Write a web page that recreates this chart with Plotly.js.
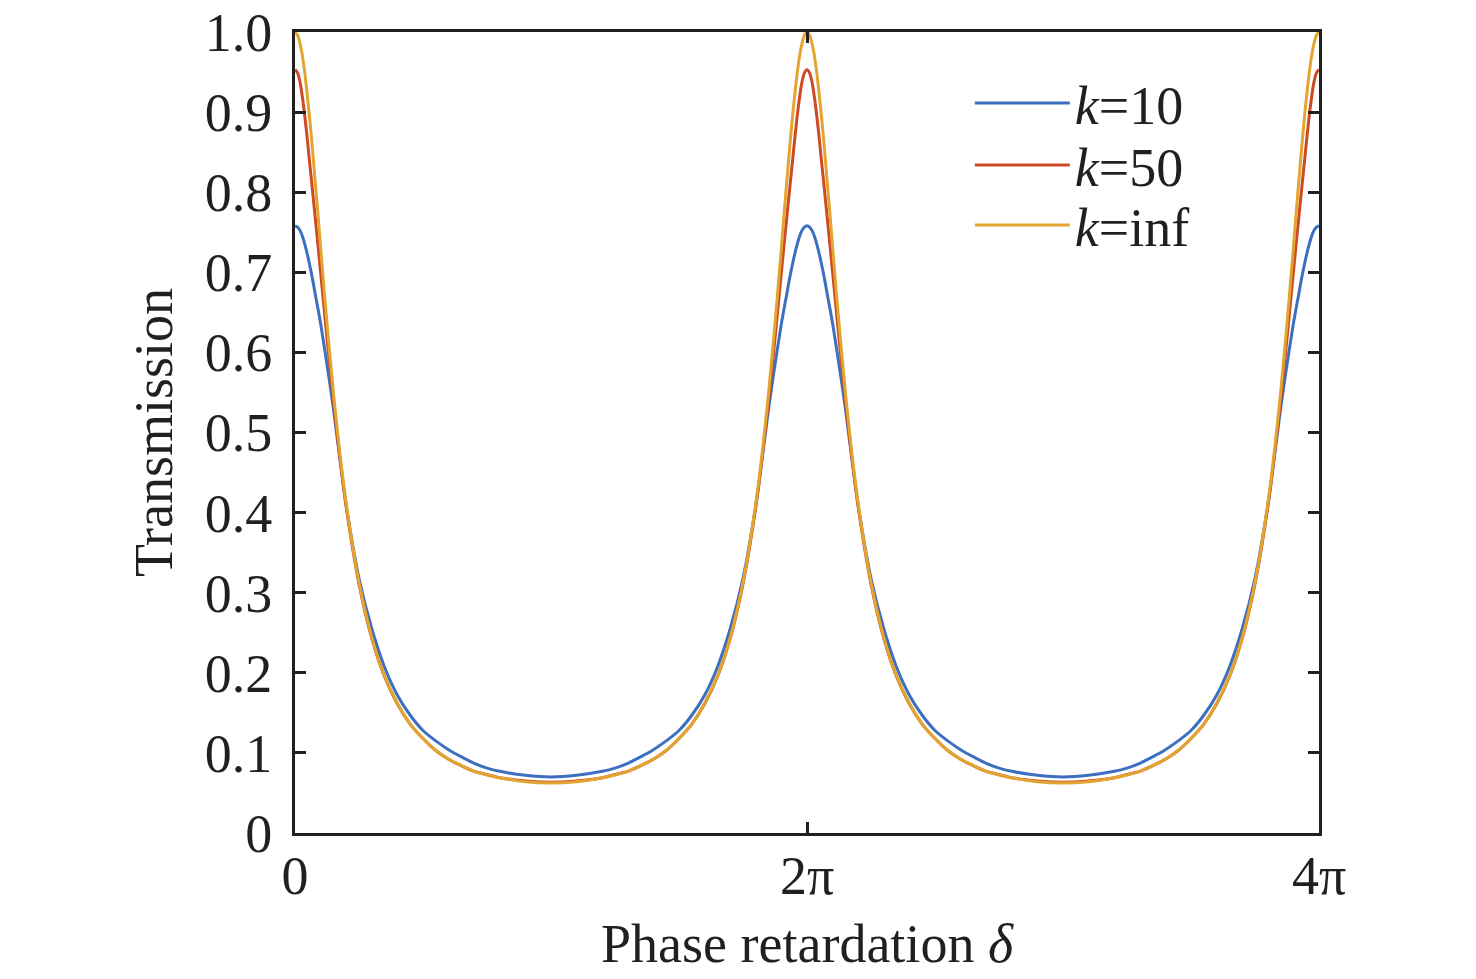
<!DOCTYPE html>
<html>
<head>
<meta charset="utf-8">
<script src="https://cdn.plot.ly/plotly-3.0.1.min.js"></script>
<style>
    html, body { margin: 0; padding: 0; background: #ffffff; }
    #chart { width: 1476px; height: 979px; }
</style>
</head>
<body>
<div id="chart"></div>
<script>
// Phase retardation in units of pi (0 .. 4pi).
const delta = [
    0, 0.01, 0.02, 0.03, 0.04, 0.05, 0.06, 0.07, 0.08, 0.09, 0.1, 0.125, 0.15, 0.175, 0.2, 0.25, 0.3, 0.35, 0.4, 0.45, 0.5, 0.55, 0.6, 0.65, 0.7, 0.75, 0.8, 0.9, 1.0,
    1.1, 1.2, 1.25, 1.3, 1.35, 1.4, 1.45, 1.5, 1.55, 1.6, 1.65, 1.7, 1.75, 1.8, 1.825, 1.85, 1.875, 1.9, 1.91, 1.92, 1.93, 1.94, 1.95, 1.96, 1.97, 1.98, 1.99, 2.0,
    2.01, 2.02, 2.03, 2.04, 2.05, 2.06, 2.07, 2.08, 2.09, 2.1, 2.125, 2.15, 2.175, 2.2, 2.25, 2.3, 2.35, 2.4, 2.45, 2.5, 2.55, 2.6, 2.65, 2.7, 2.75, 2.8, 2.9, 3.0,
    3.1, 3.2, 3.25, 3.3, 3.35, 3.4, 3.45, 3.5, 3.55, 3.6, 3.65, 3.7, 3.75, 3.8, 3.825, 3.85, 3.875, 3.9, 3.91, 3.92, 3.93, 3.94, 3.95, 3.96, 3.97, 3.98, 3.99, 4.0,
];

// Transmission, k=10.
const k10 = [
    0.758, 0.7565, 0.752, 0.744, 0.733, 0.720, 0.705, 0.689, 0.671, 0.654, 0.636, 0.585, 0.530, 0.468, 0.409, 0.318, 0.255, 0.207, 0.172, 0.147, 0.128, 0.115, 0.104, 0.095, 0.087, 0.081, 0.077, 0.072, 0.070,
    0.072, 0.077, 0.081, 0.087, 0.095, 0.104, 0.115, 0.128, 0.147, 0.172, 0.207, 0.255, 0.318, 0.409, 0.468, 0.530, 0.585, 0.636, 0.654, 0.671, 0.689, 0.705, 0.720, 0.733, 0.744, 0.752, 0.7565, 0.758,
    0.7565, 0.752, 0.744, 0.733, 0.720, 0.705, 0.689, 0.671, 0.654, 0.636, 0.585, 0.530, 0.468, 0.409, 0.318, 0.255, 0.207, 0.172, 0.147, 0.128, 0.115, 0.104, 0.095, 0.087, 0.081, 0.077, 0.072, 0.070,
    0.072, 0.077, 0.081, 0.087, 0.095, 0.104, 0.115, 0.128, 0.147, 0.172, 0.207, 0.255, 0.318, 0.409, 0.468, 0.530, 0.585, 0.636, 0.654, 0.671, 0.689, 0.705, 0.720, 0.733, 0.744, 0.752, 0.7565, 0.758,
];

// Transmission, k=50.
const k50 = [
    0.953, 0.949, 0.937, 0.916, 0.890, 0.860, 0.828, 0.797, 0.765, 0.733, 0.700, 0.618, 0.540, 0.469, 0.407, 0.311, 0.243, 0.195, 0.161, 0.136, 0.118, 0.103, 0.092, 0.084, 0.077, 0.073, 0.069, 0.065, 0.0635,
    0.065, 0.069, 0.073, 0.077, 0.084, 0.092, 0.103, 0.118, 0.136, 0.161, 0.195, 0.243, 0.311, 0.407, 0.469, 0.540, 0.618, 0.700, 0.733, 0.765, 0.797, 0.828, 0.860, 0.890, 0.916, 0.937, 0.949, 0.953,
    0.949, 0.937, 0.916, 0.890, 0.860, 0.828, 0.797, 0.765, 0.733, 0.700, 0.618, 0.540, 0.469, 0.407, 0.311, 0.243, 0.195, 0.161, 0.136, 0.118, 0.103, 0.092, 0.084, 0.077, 0.073, 0.069, 0.065, 0.0635,
    0.065, 0.069, 0.073, 0.077, 0.084, 0.092, 0.103, 0.118, 0.136, 0.161, 0.195, 0.243, 0.311, 0.407, 0.469, 0.540, 0.618, 0.700, 0.733, 0.765, 0.797, 0.828, 0.860, 0.890, 0.916, 0.937, 0.949, 0.953,
];

// Transmission, k=inf.
const kinf = [
    1.000, 0.996, 0.985, 0.968, 0.944, 0.915, 0.883, 0.847, 0.809, 0.771, 0.731, 0.636, 0.550, 0.475, 0.411, 0.313, 0.244, 0.196, 0.162, 0.136, 0.118, 0.103, 0.092, 0.084, 0.077, 0.0725, 0.069, 0.064, 0.0625,
    0.064, 0.069, 0.0725, 0.077, 0.084, 0.092, 0.103, 0.118, 0.136, 0.162, 0.196, 0.244, 0.313, 0.411, 0.475, 0.550, 0.636, 0.731, 0.771, 0.809, 0.847, 0.883, 0.915, 0.944, 0.968, 0.985, 0.996, 1.000,
    0.996, 0.985, 0.968, 0.944, 0.915, 0.883, 0.847, 0.809, 0.771, 0.731, 0.636, 0.550, 0.475, 0.411, 0.313, 0.244, 0.196, 0.162, 0.136, 0.118, 0.103, 0.092, 0.084, 0.077, 0.0725, 0.069, 0.064, 0.0625,
    0.064, 0.069, 0.0725, 0.077, 0.084, 0.092, 0.103, 0.118, 0.136, 0.162, 0.196, 0.244, 0.313, 0.411, 0.475, 0.550, 0.636, 0.731, 0.771, 0.809, 0.847, 0.883, 0.915, 0.944, 0.968, 0.985, 0.996, 1.000,
];

// Tick labels.
const xTickVals = [0, 2, 4];
const xTickText = ["0", "2π", "4π"];
const yTickVals = [0, 0.1, 0.2, 0.3, 0.4, 0.5, 0.6, 0.7, 0.8, 0.9, 1.0];
const yTickText = ["0", "0.1", "0.2", "0.3", "0.4", "0.5", "0.6", "0.7", "0.8", "0.9", "1.0"];

const FONT = "Liberation Serif";
const INK = "#231f20";
const SIZE = 54;

// One trace per curve, each one with its own legend box.
const make_trace = (y, name, color, legend) => ({
    x: delta,
    y: y,
    name: name,
    legend: legend,
    type: "scatter",
    mode: "lines",
    line: { color: color, width: 3, shape: "spline", smoothing: 0.8 },
});

const traces = [
    make_trace(k10, "<i>k</i>=10", "#3d6fc0", "legend"),
    make_trace(k50, "<i>k</i>=50", "#cc4a26", "legend2"),
    make_trace(kinf, "<i>k</i>=inf", "#e2a52f", "legend3"),
];

// Legend box at a given height (paper units).
const make_legend = (y) => ({
    x: 0.659,
    y: y,
    xanchor: "left",
    yanchor: "middle",
    bgcolor: "rgba(0,0,0,0)",
    itemwidth: 95,
    font: { family: FONT, size: SIZE, color: INK },
});

const axis_common = {
    showline: true,
    linecolor: INK,
    linewidth: 3,
    mirror: "ticks",
    ticks: "inside",
    ticklen: 11,
    tickwidth: 3,
    tickcolor: INK,
    showgrid: false,
    zeroline: false,
    ticklabeloverflow: "allow",
    tickfont: { family: FONT, size: SIZE, color: INK },
};

const layout = {
    width: 1476,
    height: 979,
    margin: { l: 295, r: 157, t: 32, b: 146 },
    paper_bgcolor: "#ffffff",
    plot_bgcolor: "#ffffff",
    showlegend: true,
    legend: make_legend(0.911),
    legend2: make_legend(0.8335),
    legend3: make_legend(0.7586),
    xaxis: Object.assign({}, axis_common, {
        range: [0, 4],
        tickvals: xTickVals,
        ticktext: xTickText,
        ticklabelstandoff: -7,
        title: { text: "Phase retardation <i>δ</i>", font: { family: FONT, size: SIZE, color: INK }, standoff: 20 },
    }),
    yaxis: Object.assign({}, axis_common, {
        range: [0, 1],
        tickvals: yTickVals,
        ticktext: yTickText,
        ticklabelstandoff: 9,
        title: { text: "Transmission", font: { family: FONT, size: SIZE, color: INK }, standoff: 15 },
    }),
};

Plotly.newPlot("chart", traces, layout, { displayModeBar: false, staticPlot: true });
</script>
</body>
</html>
